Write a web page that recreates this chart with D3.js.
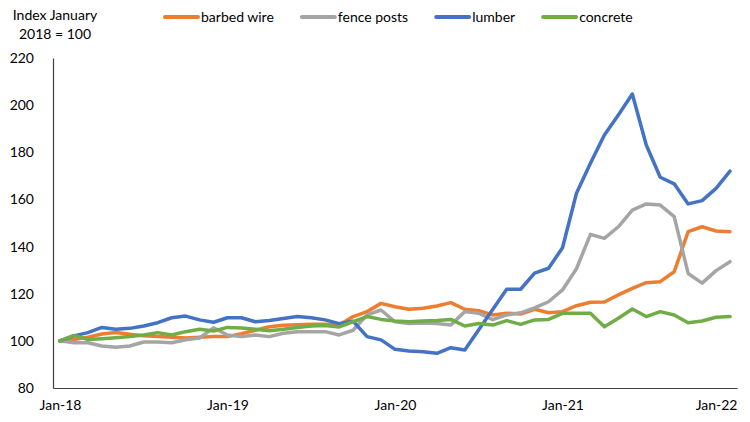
<!DOCTYPE html>
<html><head><meta charset="utf-8">
<script src="https://cdn.jsdelivr.net/npm/d3@7/dist/d3.min.js"></script>
<style>
body{margin:0;background:#fff}
text{font-family:Lato,"Open Sans",sans-serif;fill:#000}
</style>
</head><body>
<svg id="chart" width="750" height="422"></svg>
<script>
const months = [
 "2018-01","2018-02","2018-03","2018-04","2018-05","2018-06","2018-07","2018-08","2018-09","2018-10","2018-11","2018-12",
 "2019-01","2019-02","2019-03","2019-04","2019-05","2019-06","2019-07","2019-08","2019-09","2019-10","2019-11","2019-12",
 "2020-01","2020-02","2020-03","2020-04","2020-05","2020-06","2020-07","2020-08","2020-09","2020-10","2020-11","2020-12",
 "2021-01","2021-02","2021-03","2021-04","2021-05","2021-06","2021-07","2021-08","2021-09","2021-10","2021-11","2021-12",
 "2022-01"];
const xTickMonths = ["2018-01","2019-01","2020-01","2021-01","2022-01"];
const xTickLabels = ["Jan-18","Jan-19","Jan-20","Jan-21","Jan-22"];
const yTicks = [80,100,120,140,160,180,200,220];

const barbedWire = [100,100.6,101.5,102.9,103.5,102.8,102.2,101.8,101.5,101.2,101.5,101.8,
 101.8,103,104.5,106,106.6,106.8,107,107,106.7,110.3,112.4,115.9,
 114.5,113.4,113.8,114.8,116.2,113.4,112.8,111,111.7,111.4,113.4,111.9,
 112.4,114.9,116.4,116.5,119.5,122.3,124.7,125.1,129.3,146.3,148.4,146.6,146.3];
const fencePosts = [100,99.2,99.2,97.8,97.3,97.8,99.5,99.5,99.2,100.5,101.2,105.5,
 102.5,101.8,102.5,101.8,103.2,103.9,103.9,103.9,102.5,104.5,111,113.1,
 108.1,107.4,107.6,107.4,106.7,112.4,111.7,109,111,111.9,114,116.6,
 121.6,130.6,145.2,143.5,148.4,155.5,158.1,157.6,152.7,128.6,124.5,129.8,133.6];
const lumber = [100,102.1,103.5,105.7,104.9,105.3,106.3,107.7,109.8,110.5,108.9,107.9,
 109.8,109.8,108.1,108.6,109.5,110.3,109.8,108.9,107.3,108.3,101.8,100.4,
 96.4,95.7,95.4,94.7,97.1,96.1,104.7,113.3,121.9,121.9,128.7,130.8,
 139.5,162.6,175.3,187.3,195.8,204.7,183.1,169.4,166.6,158.1,159.5,164.7,172];
const concrete = [100,102.3,100.6,100.9,101.3,101.8,102.5,103.5,102.5,103.9,104.9,104.2,
 105.7,105.5,104.9,104.3,104.9,105.7,106.3,106.5,105.9,108.1,110.3,109.1,
 108.4,108.1,108.4,108.6,109.1,106.3,107.4,106.7,108.6,107,108.9,109.1,
 111.7,111.7,111.7,106,109.6,113.5,110.3,112.4,111,107.7,108.4,110,110.3];

const seriesNames = ["barbed wire","fence posts","lumber","concrete"];
const seriesValues = [barbedWire, fencePosts, lumber, concrete];
const seriesColors = ["#ED7D31","#A5A5A5","#4472C4","#70AD47"];

const svg = d3.select("#chart");
const x = d3.scalePoint().domain(months).range([53,737]).padding(0.5);
const y = d3.scaleLinear().domain([80,220]).range([388,58]);

// axes
const xAxis = svg.append("g").attr("transform","translate(0,388)")
  .call(d3.axisBottom(x).tickValues(xTickMonths)
    .tickFormat(d=>xTickLabels[xTickMonths.indexOf(d)]).tickSize(0).tickSizeOuter(0).tickPadding(12));
xAxis.select(".domain").attr("stroke","#404040").attr("stroke-width",1.2);
xAxis.selectAll("text").attr("font-size",14).style("font-family","Lato");
xAxis.selectAll(".tick").filter(d=>d==="2022-01").select("text")
  .attr("text-anchor","end").attr("x",737 - x("2022-01"));

const yAxis = svg.append("g").attr("transform","translate(53,0)")
  .call(d3.axisLeft(y).tickValues(yTicks).tickSize(0).tickSizeOuter(0).tickPadding(19));
yAxis.select(".domain").attr("stroke","#404040").attr("stroke-width",1.2);
yAxis.selectAll("text").attr("font-size",14).style("font-family","Lato");

// y title
const t = svg.append("text").attr("text-anchor","middle").attr("font-size",14);
t.append("tspan").attr("x",55).attr("y",20).text("Index January");
t.append("tspan").attr("x",55).attr("y",39).text("2018 = 100");

// lines
const line = d3.line().x((d,i)=>x(months[i])).y(d=>y(d));
seriesValues.forEach((vals,k)=>{
  svg.append("path").datum(vals).attr("d",line)
    .attr("fill","none").attr("stroke",seriesColors[k])
    .attr("stroke-width",3.5).attr("stroke-linejoin","round").attr("stroke-linecap","round");
});

// legend
let lx = 165;
seriesNames.forEach((name,k)=>{
  const g = svg.append("g");
  g.append("line").attr("x1",lx).attr("x2",lx+33).attr("y1",17).attr("y2",17)
    .attr("stroke",seriesColors[k]).attr("stroke-width",4).attr("stroke-linecap","round");
  const tx = g.append("text").attr("x",lx+36).attr("y",22).attr("font-size",14).text(name);
  lx += 36 + tx.node().getComputedTextLength() + 28;
});
</script>
</body></html>
